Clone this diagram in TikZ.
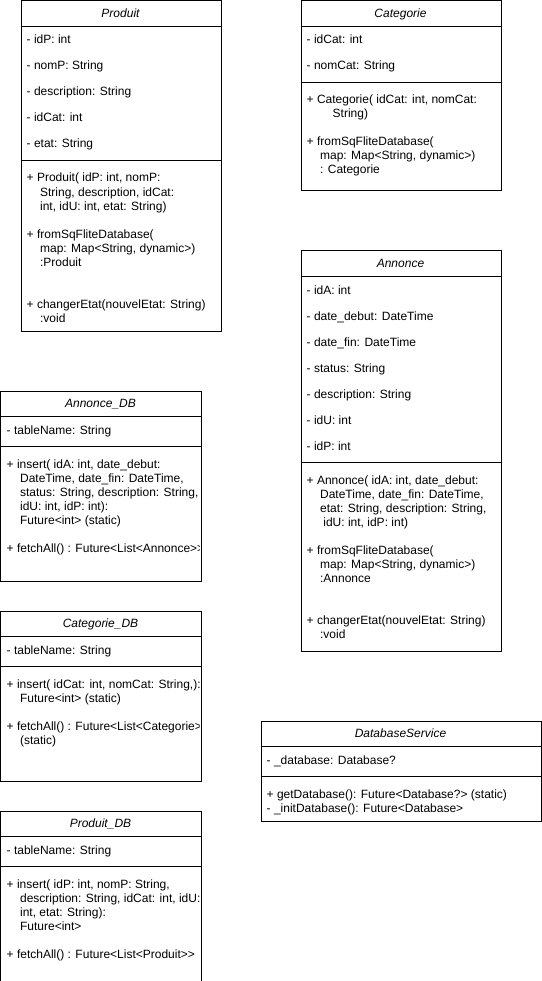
\documentclass[tikz,border=0pt]{standalone}
\usepackage{fontspec}
\setmainfont{Liberation Sans}
\newcommand{\firstrow}{\rule{0pt}{10pt}}
\newcommand{\opindent}{\hspace*{13.4pt}}

\begin{document}
\begin{tikzpicture}[
  x=1pt, y=-1pt,
  every node/.style={font=\fontsize{12}{14}\selectfont},
  classbox/.style={draw, line width=1pt, anchor=north west, inner sep=0pt, minimum width=200pt},
  classname/.style={anchor=base, font=\fontsize{12}{14}\selectfont\itshape},
  fields/.style={anchor=north west, align=left, inner sep=0pt, font=\fontsize{12}{26}\selectfont},
  methods/.style={anchor=north west, align=left, inner sep=0pt, font=\fontsize{12}{14}\selectfont},
  divider/.style={line width=1pt}
]
\useasboundingbox (-0.5,-0.5) rectangle (540.5,980.5);

% Boxes
\node[classbox, minimum height=330pt] (prod) at (20,0) {};
\node[classbox, minimum height=190pt] (cat) at (300,0) {};
\node[classbox, minimum height=400pt] (ann) at (300,250) {};
\node[classbox, minimum height=190pt] (annDB) at (0,390) {};
\node[classbox, minimum height=170pt] (catDB) at (0,610) {};
\node[classbox, minimum height=170pt] (prodDB) at (0,810) {};
\node[classbox, minimum height=100pt, minimum width=280pt] (dbs) at (260,720) {};

% Header and member dividers
\draw[divider] ([yshift=-26pt]prod.north west) -- ([yshift=-26pt]prod.north east);
\draw[divider] ([yshift=-160pt]prod.north west) -- ([yshift=-160pt]prod.north east);
\draw[divider] ([yshift=-26pt]cat.north west) -- ([yshift=-26pt]cat.north east);
\draw[divider] ([yshift=-82pt]cat.north west) -- ([yshift=-82pt]cat.north east);
\draw[divider] ([yshift=-26pt]ann.north west) -- ([yshift=-26pt]ann.north east);
\draw[divider] ([yshift=-212pt]ann.north west) -- ([yshift=-212pt]ann.north east);
\draw[divider] ([yshift=-26pt]annDB.north west) -- ([yshift=-26pt]annDB.north east);
\draw[divider] ([yshift=-56pt]annDB.north west) -- ([yshift=-56pt]annDB.north east);
\draw[divider] ([yshift=-26pt]catDB.north west) -- ([yshift=-26pt]catDB.north east);
\draw[divider] ([yshift=-56pt]catDB.north west) -- ([yshift=-56pt]catDB.north east);
\draw[divider] ([yshift=-26pt]prodDB.north west) -- ([yshift=-26pt]prodDB.north east);
\draw[divider] ([yshift=-56pt]prodDB.north west) -- ([yshift=-56pt]prodDB.north east);
\draw[divider] ([yshift=-26pt]dbs.north west) -- ([yshift=-26pt]dbs.north east);
\draw[divider] ([yshift=-56pt]dbs.north west) -- ([yshift=-56pt]dbs.north east);

% Produit
\node[classname] (prodName) at (120,17.3) {Produit};
\node[fields] (prodAttr) at (26,33.3) {\firstrow- idP: int\\- nomP: String\\- description: String\\- idCat: int\\- etat: String};
\node[methods] (prodOps) at (26,171.3) {\firstrow+ Produit( idP: int, nomP:\\
  \opindent String, description, idCat:\\
  \opindent int, idU: int, etat: String)\\[14pt]
  + fromSqFliteDatabase(\\
  \opindent map: Map<String, dynamic>)\\
  \opindent :Produit\\[28pt]
  + changerEtat(nouvelEtat: String)\\
  \opindent :void};

% Categorie
\node[classname] (catName) at (400,17.3) {Categorie};
\node[fields] (catAttr) at (306,33.3) {\firstrow- idCat: int\\- nomCat: String};
\node[methods] (catOps) at (306,93.3) {\firstrow+ Categorie( idCat: int, nomCat:\\
  \hspace*{26pt}String)\\[14pt]
  + fromSqFliteDatabase(\\
  \opindent map: Map<String, dynamic>)\\
  \opindent : Categorie};

% Annonce
\node[classname] (annName) at (400,267.3) {Annonce};
\node[fields] (annAttr) at (306,283.3) {\firstrow- idA: int\\- date\_debut: DateTime\\- date\_fin: DateTime\\- status: String\\- description: String\\- idU: int\\- idP: int};
\node[methods] (annOps) at (306,473.3) {\firstrow+ Annonce( idA: int, date\_debut:\\
  \opindent DateTime, date\_fin: DateTime,\\
  \opindent etat: String, description: String,\\
  \opindent\hspace*{3.3pt}idU: int, idP: int)\\[14pt]
  + fromSqFliteDatabase(\\
  \opindent map: Map<String, dynamic>)\\
  \opindent :Annonce\\[28pt]
  + changerEtat(nouvelEtat: String)\\
  \opindent :void};

% Annonce_DB
\node[classname] (annDBName) at (100,407.3) {Annonce\_DB};
\node[fields] (annDBAttr) at (6,423.3) {\firstrow- tableName: String};
\begin{scope}
\clip (annDB.north west) rectangle ([xshift=-2pt]annDB.south east);
\node[methods] (annDBOps) at (6,457.3) {\firstrow+ insert( idA: int, date\_debut:\\
  \opindent DateTime, date\_fin: DateTime,\\
  \opindent status: String, description: String,\\
  \opindent idU: int, idP: int):\\
  \opindent Future<int> (static)\\[14pt]
  + fetchAll() : Future<List<Annonce>{}>};
\end{scope}

% Categorie_DB
\node[classname] (catDBName) at (100,627.3) {Categorie\_DB};
\node[fields] (catDBAttr) at (6,643.3) {\firstrow- tableName: String};
\begin{scope}
\clip (catDB.north west) rectangle ([xshift=-2pt]catDB.south east);
\node[methods] (catDBOps) at (6,677.3) {\firstrow+ insert( idCat: int, nomCat: String,):\\
  \opindent Future<int> (static)\\[14pt]
  + fetchAll() : Future<List<Categorie>{}>\\
  \opindent (static)};
\end{scope}

% Produit_DB
\node[classname] (prodDBName) at (100,827.3) {Produit\_DB};
\node[fields] (prodDBAttr) at (6,843.3) {\firstrow- tableName: String};
\node[methods] (prodDBOps) at (6,877.3) {\firstrow+ insert( idP: int, nomP: String,\\
  \opindent description: String, idCat: int, idU:\\
  \opindent int, etat: String):\\
  \opindent Future<int>\\[14pt]
  + fetchAll() : Future<List<Produit>{}>};

% DatabaseService
\node[classname] (dbsName) at (400,737.3) {DatabaseService};
\node[fields] (dbsAttr) at (266,753.3) {\firstrow- \_database: Database?};
\node[methods] (dbsOps) at (266,787.3) {\firstrow+ getDatabase(): Future<Database?> (static)\\
  - \_initDatabase(): Future<Database>};

\end{tikzpicture}
\end{document}
